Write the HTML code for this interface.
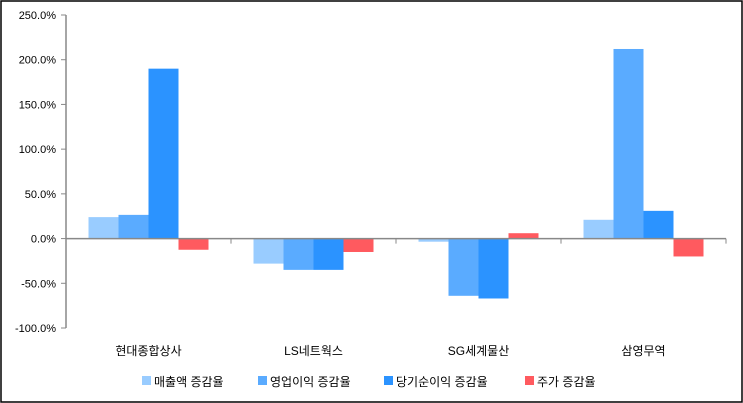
<!DOCTYPE html>
<html><head><meta charset="utf-8"><style>
body{margin:0;background:#fff}
svg{display:block;font-family:"Liberation Sans","Noto Sans CJK KR",sans-serif}
</style></head><body>
<svg id="chart" width="743" height="403">
<rect x="1" y="1" width="741" height="401" fill="#fff" stroke="#000" stroke-width="1.5"/>
<g id="g"></g>
</svg>
<script>
const categories=["현대종합상사","LS네트웍스","SG세계물산","삼영무역"];
const seriesNames=["매출액 증감율","영업이익 증감율","당기순이익 증감율","주가 증감율"];
const sales=[24,-28,-3.5,21];
const opProfit=[26.5,-35,-64,212];
const netProfit=[190,-35,-67,31];
const stock=[-12.5,-15,6,-20];
const tickValues=[250,200,150,100,50,0,-50,-100];
const tickLabels=["250.0%","200.0%","150.0%","100.0%","50.0%","0.0%","-50.0%","-100.0%"];
const colors=["#99ccff","#5aabff","#2b93ff","#ff5a5f"];
const series=[sales,opProfit,netProfit,stock];
const NS="http://www.w3.org/2000/svg",g=document.getElementById('g');
const x0=66,x1=726,yTop=15,yBot=328,vMax=250,vMin=-100;
const y=v=>yTop+(vMax-v)/(vMax-vMin)*(yBot-yTop);
const cw=(x1-x0)/categories.length,bw=30;
function mk(t,a){const e=document.createElementNS(NS,t);for(const k in a)e.setAttribute(k,a[k]);g.appendChild(e);return e;}
tickValues.forEach((v,i)=>{
 const l=mk('line',{x1:x0-5,x2:x0,y1:y(v),y2:y(v),stroke:'#888'});
 
 
 const t=mk('text',{x:x0-10,y:y(v)+4,'text-anchor':'end','font-size':11,fill:'#000'});
 t.textContent=tickLabels[i];
 
 
});
series.forEach((arr,s)=>arr.forEach((v,i)=>{
 const cx=x0+cw*(i+0.5);
 const bx=cx-2*bw+s*bw;
 const r=mk('rect',{x:bx,y:Math.min(y(v),y(0)),width:bw,height:Math.abs(y(v)-y(0)),fill:colors[s]});
 
 
}));
const ax=mk('line',{x1:x0,x2:x0,y1:yTop,y2:yBot,stroke:'#888','stroke-width':1.5});


const zx=mk('line',{x1:x0,x2:x1,y1:y(0),y2:y(0),stroke:'#888','stroke-width':1.5});


for(let i=1;i<=categories.length;i++){
 const tk=mk('line',{x1:x0+cw*i,x2:x0+cw*i,y1:y(0),y2:y(0)+5,stroke:'#888'});
 
 
}
categories.forEach((c,i)=>{
 const t=mk('text',{x:x0+cw*(i+0.5),y:355,'text-anchor':'middle','font-size':12,fill:'#000'});
 t.textContent=c;
 
 
});
const lx=[142,258,384,525];
seriesNames.forEach((n,s)=>{
 const r=mk('rect',{x:lx[s],y:376,width:9,height:9,fill:colors[s]});
 
 
 const t=mk('text',{x:lx[s]+12,y:386,'font-size':12,fill:'#000'});
 t.textContent=n;
 
 
});
</script>
</body></html>
